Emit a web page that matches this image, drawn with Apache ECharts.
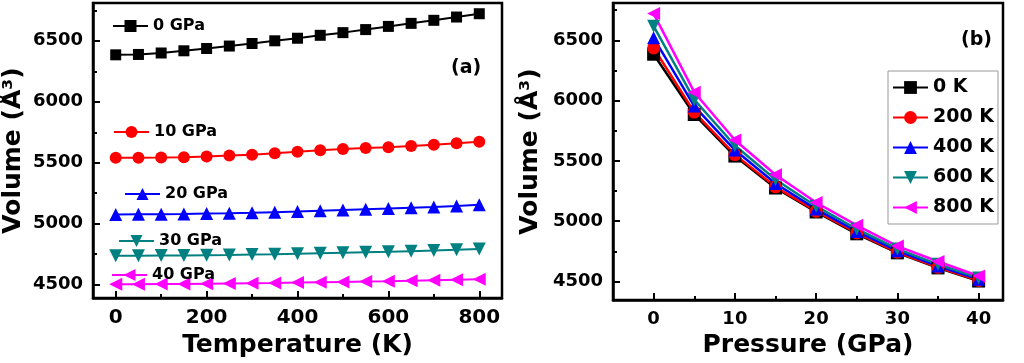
<!DOCTYPE html>
<html>
<head>
<meta charset="utf-8">
<script src="https://cdn.jsdelivr.net/npm/echarts@6/dist/echarts.min.js"></script>
<style>
html,body{margin:0;padding:0;background:#fff;}
#c{width:1024px;height:363px;}
</style>
</head>
<body>
<div id="c"></div>
<script>
// ---- Panel (a): volume vs temperature at fixed pressures ----
const temperatures = [0,50,100,150,200,250,300,350,400,450,500,550,600,650,700,750,800];
const v0GPa  = [6385,6388,6400,6418,6437,6457,6478,6500,6521,6545,6567,6592,6618,6643,6668,6695,6722];
const v10GPa = [5540,5541,5543,5546,5552,5559,5566,5578,5590,5603,5612,5620,5628,5638,5647,5660,5673];
const v20GPa = [5076,5077,5078,5080,5083,5086,5090,5095,5100,5106,5112,5118,5124,5131,5138,5146,5155];
const v30GPa = [4737,4738,4739,4740,4742,4744,4747,4750,4754,4758,4762,4766,4770,4775,4780,4786,4793];
const v40GPa = [4503,4504,4505,4506,4508,4510,4512,4514,4517,4520,4523,4526,4529,4533,4537,4541,4545];
const pressureNames = ['0 GPa','10 GPa','20 GPa','30 GPa','40 GPa'];

// ---- Panel (b): volume vs pressure at fixed temperatures ----
const pressures = [0,5,10,15,20,25,30,35,40];
const v0K   = [6385,5885,5540,5275,5076,4895,4737,4612,4503];
const v200K = [6437,5905,5552,5285,5083,4902,4742,4617,4508];
const v400K = [6521,5955,5590,5312,5100,4915,4754,4627,4517];
const v600K = [6618,6008,5628,5345,5124,4935,4770,4642,4529];
const v800K = [6722,6070,5673,5385,5155,4965,4793,4665,4545];
const tempNames = ['0 K','200 K','400 K','600 K','800 K'];

// ---- Tick values ----
const volLabelTicks = [4500,5000,5500,6000,6500];
const volMinorTicks = [4750,5250,5750,6250,6750];
const tempLabelTicks = [0,200,400,600,800];
const tempMinorTicks = [100,300,500,700];
const presLabelTicks = [0,10,20,30,40];
const presMinorTicks = [5,15,25,35];

const colors = ['#000000','#ff0000','#0000ff','#008080','#ff00ff'];
const symbols = ['rect','circle','triangle','triangle','triangle'];
const rotates = [0,0,0,180,90];
const FONT = 'DejaVu Sans';

function pairs(xs, ys){ return xs.map((x,i)=>[x, ys[i]]); }
const plain = v => String(v);

const chart = echarts.init(document.getElementById('c'), null, {renderer:'canvas'});

const leftSeriesData = [v0GPa, v10GPa, v20GPa, v30GPa, v40GPa];
const rightSeriesData = [v0K, v200K, v400K, v600K, v800K];
const leftSizes = [11,12,13,13,13];

const series = [];
leftSeriesData.forEach((ys, i) => {
  series.push({
    name: pressureNames[i], type:'line', xAxisIndex:0, yAxisIndex:0,
    data: pairs(temperatures, ys),
    symbol: symbols[i], symbolSize: leftSizes[i], symbolRotate: rotates[i],
    showAllSymbol: true,
    lineStyle:{color:colors[i], width:2}, itemStyle:{color:colors[i]},
    animation:false, z: 3
  });
});
rightSeriesData.forEach((ys, i) => {
  series.push({
    name: tempNames[i], type:'line', xAxisIndex:2, yAxisIndex:2,
    data: pairs(pressures, ys),
    symbol: symbols[i], symbolSize: 13, symbolRotate: rotates[i],
    showAllSymbol: true,
    lineStyle:{color:colors[i], width:2.5}, itemStyle:{color:colors[i]},
    animation:false, z: 3
  });
});

const leftLegendPos = [[112,18],[113,124],[124,186],[118,233],[111,267]];
const legends = pressureNames.map((n,i)=>({
  data:[n], left:leftLegendPos[i][0], top:leftLegendPos[i][1], padding:0,
  itemWidth:35, itemHeight:15, selectedMode:false,
  textStyle:{fontFamily:FONT, fontWeight:'bold', fontSize:16, color:'#000'}
}));
legends.push({
  data: tempNames, orient:'vertical', left:888, top:71,
  padding:[7,4,7,4], itemGap:11, itemWidth:35, itemHeight:16,
  borderColor:'#999', borderWidth:1, selectedMode:false,
  textStyle:{fontFamily:FONT, fontWeight:'bold', fontSize:19, color:'#000'}
});

function yAxes(grid, min, max, gap){
  return [{
    type:'value', gridIndex:grid, min:min, max:max, position:'left',
    name:'Volume (Å³)', nameLocation:'middle', nameGap:gap,
    nameTextStyle:{fontFamily:FONT, fontWeight:'bold', fontSize:25, color:'#000'},
    axisLine:{show:true, onZero:false, lineStyle:{color:'#000', width:2.5}},
    axisTick:{show:true, inside:true, length:7, lineStyle:{color:'#000', width:2}, customValues: volLabelTicks},
    axisLabel:{fontFamily:FONT, fontWeight:'bold', fontSize:18, color:'#000', margin:10, customValues: volLabelTicks, formatter: plain},
    splitLine:{show:false}
  },{
    type:'value', gridIndex:grid, min:min, max:max, position:'left', offset:0,
    axisLine:{show:false, onZero:false},
    axisTick:{show:true, inside:true, length:4, lineStyle:{color:'#000', width:2}, customValues: volMinorTicks},
    axisLabel:{show:false}, splitLine:{show:false}
  }];
}
function xAxes(grid, min, max, name, labels, minors, fs){
  return [{
    type:'value', gridIndex:grid, min:min, max:max, position:'bottom',
    name:name, nameLocation:'middle', nameGap:27,
    nameTextStyle:{fontFamily:FONT, fontWeight:'bold', fontSize:25, color:'#000'},
    axisLine:{show:true, onZero:false, lineStyle:{color:'#000', width:2.5}},
    axisTick:{show:true, inside:true, length:7, lineStyle:{color:'#000', width:2}, customValues: labels},
    axisLabel:{fontFamily:FONT, fontWeight:'bold', fontSize:fs, color:'#000', margin:10, customValues: labels, formatter: plain},
    splitLine:{show:false}
  },{
    type:'value', gridIndex:grid, min:min, max:max, position:'bottom', offset:0,
    axisLine:{show:false, onZero:false},
    axisTick:{show:true, inside:true, length:4, lineStyle:{color:'#000', width:2}, customValues: minors},
    axisLabel:{show:false}, splitLine:{show:false}
  }];
}

const option = {
  backgroundColor:'#fff',
  animation:false,
  title:[
    {text:'(a)', left:451, top:59, padding:0, textStyle:{fontFamily:FONT, fontWeight:'bold', fontSize:19, color:'#000'}},
    {text:'(b)', left:961, top:31, padding:0, textStyle:{fontFamily:FONT, fontWeight:'bold', fontSize:19, color:'#000'}}
  ],
  legend: legends,
  grid:[
    {left:92, right:522, top:3, bottom:60, show:true, borderColor:'#000', borderWidth:2.5, backgroundColor:'transparent'},
    {left:613, right:21, top:3, bottom:59, show:true, borderColor:'#000', borderWidth:2.5, backgroundColor:'transparent'}
  ],
  xAxis: [].concat(
    xAxes(0, -50, 850, 'Temperature (K)', tempLabelTicks, tempMinorTicks, 20),
    xAxes(1, -5, 43, 'Pressure (GPa)', presLabelTicks, presMinorTicks, 18)
  ),
  yAxis: [].concat(yAxes(0, 4390, 6810, 67), yAxes(1, 4345, 6810, 70)),
  series: series
};
chart.setOption(option);
</script>
</body>
</html>
